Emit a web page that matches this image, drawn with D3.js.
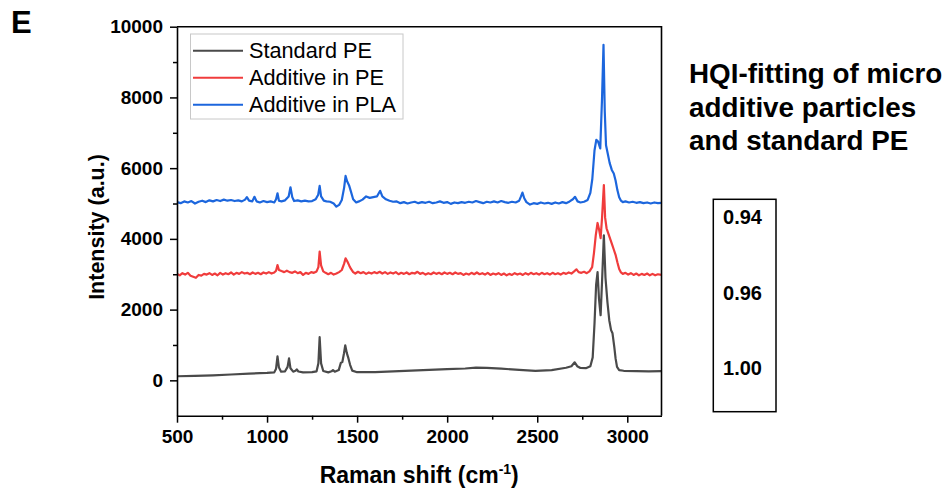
<!DOCTYPE html>
<html>
<head>
<meta charset="utf-8">
<script src="https://cdn.jsdelivr.net/npm/d3@7/dist/d3.min.js"></script>
<style>
  body { margin: 0; background: #fff; }
  text { font-family: "Liberation Sans", Arial, sans-serif; }
</style>
</head>
<body>
<svg id="chart" width="949" height="492"></svg>
<script>
// tick values
const xTicks = [500, 1000, 1500, 2000, 2500, 3000];
const xMinor = [750, 1250, 1750, 2250, 2750];
const yTicks = [0, 2000, 4000, 6000, 8000, 10000];
const yMinor = [1000, 3000, 5000, 7000, 9000];

const seriesNames = ["Standard PE", "Additive in PE", "Additive in PLA"];
const hqiValues = ["0.94", "0.96", "1.00"];
const hqiTitle = ["HQI-fitting of micro", "additive particles", "and standard PE"];

// spectra: [raman shift, intensity]
const standardPE = [
  [500, 115], [600, 125], [700, 140], [800, 165], [900, 190], [960, 205], [1000, 210], [1040, 225],
  [1050, 330], [1058, 680], [1066, 360], [1078, 245], [1100, 255], [1114, 380], [1122, 620], [1130, 340],
  [1145, 245], [1158, 270], [1165, 310], [1174, 250], [1200, 225], [1250, 230], [1275, 255], [1285, 480],
  [1292, 1220], [1300, 480], [1312, 265], [1340, 225], [1358, 255], [1366, 290], [1376, 245], [1398, 290],
  [1410, 500], [1418, 520], [1427, 760], [1434, 990], [1443, 770], [1452, 620], [1461, 440], [1473, 275],
  [1500, 230], [1600, 235], [1700, 255], [1800, 275], [1900, 295], [2000, 315], [2100, 335], [2160, 360],
  [2220, 355], [2300, 330], [2400, 295], [2490, 265], [2580, 290], [2660, 355], [2690, 400], [2708, 510],
  [2722, 400], [2740, 350], [2770, 345], [2795, 400], [2808, 650], [2818, 1600], [2827, 2700], [2835, 3060],
  [2843, 2300], [2852, 1840], [2860, 2800], [2870, 4100], [2879, 2900], [2890, 2200], [2900, 1700], [2910, 1420],
  [2918, 1330], [2928, 940], [2935, 620], [2943, 380], [2955, 290], [2980, 270], [3050, 258], [3120, 252], [3190, 258]
];

const additivePE = [
  [500, 3010], [515, 2970], [530, 3030], [545, 2990], [560, 3040], [575, 2960], [590, 2930], [605, 2900],
  [620, 2980], [635, 2960], [650, 3010], [665, 2990], [680, 3030], [695, 2980], [710, 3020], [725, 2970],
  [740, 3040], [755, 2990], [770, 3030], [785, 3000], [800, 3050], [815, 2990], [830, 3040], [845, 3010],
  [860, 3060], [875, 3020], [890, 3040], [905, 3000], [920, 3050], [935, 3010], [950, 3040], [965, 3000],
  [980, 3050], [995, 3020], [1010, 3060], [1025, 3020], [1040, 3050], [1050, 3100], [1058, 3260], [1066, 3120],
  [1080, 3090], [1095, 3060], [1110, 3100], [1125, 3060], [1140, 3040], [1155, 3080], [1170, 3030], [1185, 3060],
  [1200, 2980], [1215, 3040], [1230, 3010], [1245, 3060], [1260, 3040], [1275, 3080], [1285, 3200], [1292, 3640],
  [1300, 3250], [1312, 3080], [1325, 3040], [1340, 3000], [1355, 3040], [1370, 2990], [1385, 3020], [1400, 3060],
  [1415, 3120], [1428, 3300], [1436, 3450], [1446, 3360], [1456, 3250], [1466, 3150], [1478, 3060], [1490, 3020],
  [1505, 3070], [1520, 3030], [1535, 3060], [1550, 3010], [1565, 3050], [1580, 3020], [1595, 3060], [1610, 3030],
  [1625, 3070], [1640, 3020], [1655, 3060], [1670, 3010], [1685, 3050], [1700, 3020], [1715, 3060], [1730, 3000],
  [1745, 3040], [1760, 3010], [1775, 3050], [1790, 3000], [1805, 3040], [1820, 3020], [1835, 3070], [1850, 3010],
  [1865, 3040], [1880, 2990], [1895, 3030], [1910, 3000], [1925, 3050], [1940, 3010], [1955, 3040], [1970, 3000],
  [1985, 3050], [2000, 3010], [2015, 3040], [2030, 3000], [2045, 3050], [2060, 3010], [2075, 3030], [2090, 2980],
  [2105, 3020], [2120, 2990], [2135, 3040], [2150, 3000], [2165, 3050], [2180, 3000], [2195, 3030], [2210, 2990],
  [2225, 3040], [2240, 2980], [2255, 3020], [2270, 2990], [2285, 3030], [2300, 2980], [2315, 3020], [2330, 2970],
  [2345, 3010], [2360, 2980], [2375, 3030], [2390, 2990], [2405, 3020], [2420, 2980], [2435, 3030], [2450, 2990],
  [2465, 3040], [2480, 3000], [2495, 3030], [2510, 2990], [2525, 3040], [2540, 3000], [2555, 3030], [2570, 2990],
  [2585, 3040], [2600, 3000], [2615, 3030], [2630, 2990], [2645, 3040], [2660, 3010], [2675, 3050], [2690, 3020],
  [2705, 3080], [2718, 3140], [2730, 3060], [2745, 3040], [2760, 3070], [2775, 3030], [2790, 3080], [2805, 3200],
  [2815, 3600], [2825, 4100], [2835, 4450], [2844, 4250], [2852, 4020], [2860, 4600], [2870, 5520], [2877, 4600],
  [2885, 4300], [2895, 4150], [2905, 4000], [2915, 3850], [2925, 3700], [2935, 3550], [2945, 3340], [2955, 3150],
  [2965, 3050], [2975, 3010], [2990, 3040], [3005, 2990], [3020, 3030], [3035, 2980], [3050, 3020], [3065, 2970],
  [3080, 3010], [3095, 2980], [3110, 3020], [3125, 2970], [3140, 3010], [3155, 2970], [3170, 3000], [3190, 2980]
];

const additivePLA = [
  [500, 5040], [520, 5010], [540, 5060], [560, 5030], [580, 5070], [600, 5000], [620, 5050], [640, 5080],
  [660, 5040], [680, 5090], [700, 5060], [720, 5100], [740, 5070], [760, 5110], [780, 5080], [800, 5100],
  [820, 5070], [840, 5090], [860, 5060], [878, 5110], [888, 5180], [900, 5080], [918, 5060], [930, 5190],
  [942, 5060], [960, 5030], [980, 5070], [1000, 5040], [1020, 5060], [1040, 5030], [1050, 5120], [1058, 5290],
  [1066, 5080], [1080, 5060], [1100, 5090], [1120, 5200], [1130, 5460], [1140, 5180], [1150, 5070], [1170, 5090],
  [1190, 5060], [1210, 5080], [1230, 5060], [1250, 5070], [1270, 5120], [1284, 5250], [1292, 5500], [1300, 5200],
  [1315, 5080], [1330, 5060], [1350, 5050], [1370, 5000], [1385, 4910], [1400, 4960], [1415, 5100], [1428, 5450],
  [1436, 5780], [1445, 5620], [1455, 5520], [1465, 5350], [1478, 5120], [1495, 5030], [1510, 5060], [1530, 5110],
  [1550, 5200], [1570, 5160], [1590, 5180], [1610, 5200], [1628, 5360], [1640, 5200], [1660, 5120], [1680, 5080],
  [1700, 5050], [1720, 5060], [1740, 5010], [1760, 5040], [1780, 5000], [1800, 5030], [1820, 5050], [1840, 5010],
  [1860, 5040], [1880, 5020], [1900, 5050], [1920, 5010], [1940, 5030], [1960, 5060], [1980, 5020], [2000, 5040],
  [2020, 4990], [2040, 5030], [2060, 5010], [2080, 5040], [2100, 5020], [2120, 5050], [2140, 5030], [2160, 5070],
  [2180, 5040], [2200, 5010], [2220, 5050], [2240, 5030], [2260, 5060], [2280, 5030], [2300, 5070], [2320, 5040],
  [2340, 5020], [2360, 5050], [2380, 5030], [2400, 5080], [2410, 5200], [2418, 5310], [2428, 5150], [2440, 5040],
  [2460, 4970], [2480, 5010], [2500, 4990], [2520, 5030], [2540, 5000], [2560, 5020], [2580, 4990], [2600, 5030],
  [2620, 5000], [2640, 5040], [2660, 5010], [2680, 5060], [2698, 5120], [2710, 5190], [2724, 5060], [2740, 5030],
  [2760, 5050], [2780, 5100], [2795, 5300], [2806, 5700], [2818, 6500], [2828, 6800], [2838, 6750], [2850, 6560],
  [2860, 8000], [2868, 9490], [2875, 7600], [2882, 6650], [2892, 6400], [2902, 6150], [2914, 5950], [2925, 5850],
  [2935, 5650], [2945, 5380], [2955, 5180], [2965, 5080], [2975, 5040], [2990, 5060], [3010, 5030], [3030, 5050],
  [3050, 5020], [3070, 5040], [3090, 5010], [3110, 5030], [3130, 5000], [3150, 5030], [3170, 5010], [3190, 5020]
];

const colors = ["#4a4a4a", "#f03c3c", "#1c66dd"];

const svg = d3.select("#chart");

const x = d3.scaleLinear().domain([500, 3190]).range([177, 661.5]);
const y = d3.scaleLinear().domain([-1000, 10000]).range([415.7, 26.7]);

// panel letter
svg.append("text")
  .attr("x", 11).attr("y", 33)
  .attr("font-size", 31).attr("font-weight", "bold")
  .text("E");

// spectra
const line = d3.line().x(d => x(d[0])).y(d => y(d[1]));
[standardPE, additivePE, additivePLA].forEach((s, i) => {
  svg.append("path")
    .datum(s)
    .attr("fill", "none")
    .attr("stroke", colors[i])
    .attr("stroke-width", 2.2)
    .attr("stroke-linejoin", "round")
    .attr("d", line);
});

// top and right frame
svg.append("path")
  .attr("d", `M${x(500)},${y(10000)}H${x(3190)}V${y(-1000)}`)
  .attr("fill", "none").attr("stroke", "#000").attr("stroke-width", 1.6);

// axes
const gx = svg.append("g")
  .attr("transform", `translate(0,${y(-1000)})`)
  .call(d3.axisBottom(x).tickValues(xTicks).tickFormat(d3.format("d"))
    .tickSize(7).tickPadding(7).tickSizeOuter(0));
svg.append("g")
  .attr("transform", `translate(0,${y(-1000)})`)
  .call(d3.axisBottom(x).tickValues(xMinor).tickSize(4).tickFormat(""))
  .select(".domain").remove();

const gy = svg.append("g")
  .attr("transform", `translate(${x(500)},0)`)
  .call(d3.axisLeft(y).tickValues(yTicks).tickFormat(d3.format("d"))
    .tickSize(7).tickPadding(7).tickSizeOuter(0));
svg.append("g")
  .attr("transform", `translate(${x(500)},0)`)
  .call(d3.axisLeft(y).tickValues(yMinor).tickSize(4).tickFormat(""))
  .select(".domain").remove();

svg.selectAll(".domain").attr("stroke-width", 1.6);
svg.selectAll(".tick line").attr("stroke-width", 1.5);
[gx, gy].forEach(g => g.selectAll("text")
  .attr("font-size", 19).attr("font-weight", "bold")
  .attr("font-family", "'Liberation Sans', Arial, sans-serif").attr("fill", "#000"));

// axis titles
svg.append("text")
  .attr("transform", `translate(104,227) rotate(-90)`)
  .attr("text-anchor", "middle")
  .attr("font-size", 21.5).attr("font-weight", "bold")
  .text("Intensity (a.u.)");

const xt = svg.append("text")
  .attr("x", (x(500) + x(3190)) / 2).attr("y", 483)
  .attr("text-anchor", "middle")
  .attr("font-size", 23).attr("font-weight", "bold");
xt.append("tspan").text("Raman shift (cm");
xt.append("tspan").attr("font-size", 14).attr("dy", -9).text("-1");
xt.append("tspan").attr("dy", 9).text(")");

// legend
const legend = svg.append("g");
legend.append("rect")
  .attr("x", 190.5).attr("y", 34).attr("width", 212.5).attr("height", 85)
  .attr("fill", "#fff").attr("stroke", "#c8c8c8").attr("stroke-width", 1);
seriesNames.forEach((name, i) => {
  const ly = 50.7 + i * 27;
  legend.append("line")
    .attr("x1", 193).attr("x2", 243).attr("y1", ly).attr("y2", ly)
    .attr("stroke", colors[i]).attr("stroke-width", 2);
  legend.append("text")
    .attr("x", 249).attr("y", ly + 7)
    .attr("font-size", 21.7)
    .text(name);
});

// HQI annotation
hqiTitle.forEach((t, i) => {
  svg.append("text")
    .attr("x", 689).attr("y", 83 + i * 33.5)
    .attr("font-size", 27.8).attr("font-weight", "bold")
    .text(t);
});

svg.append("rect")
  .attr("x", 713.3).attr("y", 199.3).attr("width", 62.7).attr("height", 212.4)
  .attr("fill", "none").attr("stroke", "#000").attr("stroke-width", 1.5);
hqiValues.forEach((v, i) => {
  svg.append("text")
    .attr("x", 742.5).attr("y", [224.3, 300, 375][i])
    .attr("text-anchor", "middle")
    .attr("font-size", 20).attr("font-weight", "bold")
    .text(v);
});
</script>
</body>
</html>
